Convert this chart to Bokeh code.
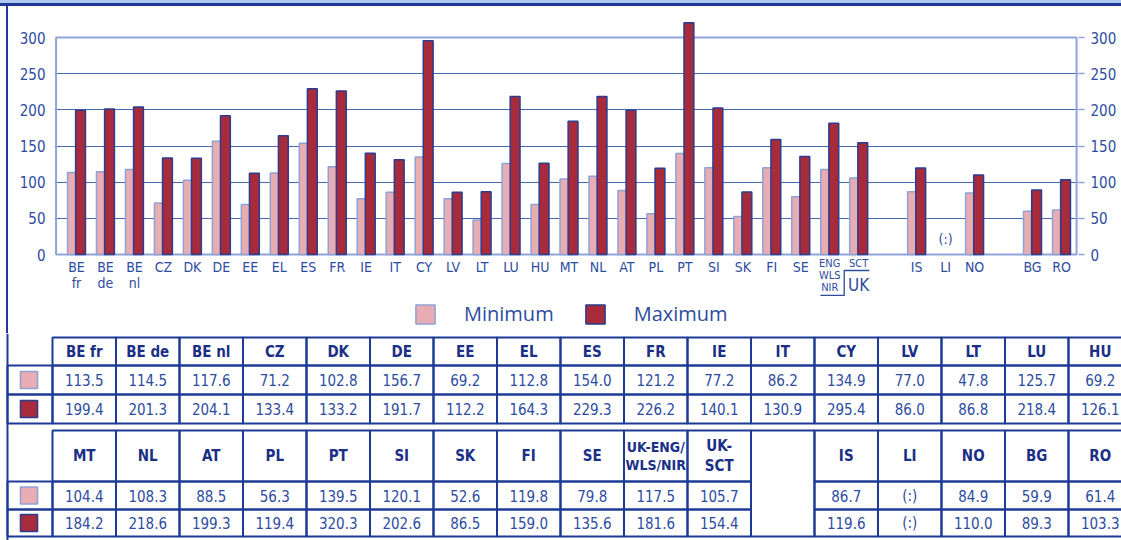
from bokeh.plotting import figure
from bokeh.models import (Range1d, FixedTicker, LinearAxis, Legend, LegendItem,
                          ColumnDataSource, Div, Grid)
from bokeh.layouts import column
from bokeh.transform import dodge
from bokeh.core.properties import value
from bokeh.embed import file_html
from bokeh.resources import INLINE

# ---------------- data ----------------
eu_countries = ["BE fr", "BE de", "BE nl", "CZ", "DK", "DE", "EE", "EL", "ES", "FR",
                "IE", "IT", "CY", "LV", "LT", "LU", "HU", "MT", "NL", "AT", "PL",
                "PT", "SI", "SK", "FI", "SE", "UK-ENG/WLS/NIR", "UK-SCT"]
efta_countries = ["IS", "LI", "NO"]
candidate_countries = ["BG", "RO"]

minimum = [113.5, 114.5, 117.6, 71.2, 102.8, 156.7, 69.2, 112.8, 154.0, 121.2,
           77.2, 86.2, 134.9, 77.0, 47.8, 125.7, 69.2, 104.4, 108.3, 88.5, 56.3,
           139.5, 120.1, 52.6, 119.8, 79.8, 117.5, 105.7,
           86.7, None, 84.9,
           59.9, 61.4]
maximum = [199.4, 201.3, 204.1, 133.4, 133.2, 191.7, 112.2, 164.3, 229.3, 226.2,
           140.1, 130.9, 295.4, 86.0, 86.8, 218.4, 126.1, 184.2, 218.6, 199.3, 119.4,
           320.3, 202.6, 86.5, 159.0, 135.6, 181.6, 154.4,
           119.6, None, 110.0,
           89.3, 103.3]

axis_labels = ["BE\nfr", "BE\nde", "BE\nnl", "CZ", "DK", "DE", "EE", "EL", "ES", "FR",
               "IE", "IT", "CY", "LV", "LT", "LU", "HU", "MT", "NL", "AT", "PL",
               "PT", "SI", "SK", "FI", "SE", "ENG\nWLS\nNIR", "SCT",
               "IS", "LI", "NO", "BG", "RO"]
table_headers = ["BE fr", "BE de", "BE nl", "CZ", "DK", "DE", "EE", "EL", "ES", "FR",
                 "IE", "IT", "CY", "LV", "LT", "LU", "HU", "MT", "NL", "AT", "PL",
                 "PT", "SI", "SK", "FI", "SE", "UK-ENG/\nWLS/NIR", "UK-\nSCT",
                 "IS", "LI", "NO", "BG", "RO"]
uk_label = "UK"
missing_label = "(:)"
series_names = ["Minimum", "Maximum"]
y_ticks = [0, 50, 100, 150, 200, 250, 300]
grid_ticks = [50, 100, 150, 200, 250]

# ---------------- styles ----------------
PINK, PINK_LINE = "#e8adb2", "#8ea2d6"
RED, RED_LINE = "#a82b3b", "#2a3d90"
BLUE = "#2e4c9f"
NAVY = "#1b2f86"
GRID_C = "#4a68b2"
BOX_C = "#8fa4d8"
BORDER = "#1d3a96"
NARROW = "Liberation Sans Narrow, DejaVu Sans Condensed, Arial Narrow, sans-serif"

W = 1121
BAND_H = 6
CHART_H = 327
TABLE_H = 207

# ---------------- slot positions (gap between country groups) ----------------
groups = [eu_countries, efta_countries, candidate_countries]
countries, slots = [], []
pos = 0
for g in groups:
    for c in g:
        countries.append(c)
        slots.append(pos)
        pos += 1
    pos += 1

nan = float("nan")
src = ColumnDataSource(dict(
    x=slots,
    minimum=[nan if v is None else v for v in minimum],
    maximum=[nan if v is None else v for v in maximum],
    label=axis_labels,
))

# ---------------- chart ----------------
box_l, box_r = slots[0] - 0.705, slots[-1] + 0.52
p = figure(width=W, height=CHART_H, output_backend="svg", toolbar_location=None,
           x_range=Range1d(slots[0] - 0.759, slots[-1] + 0.587),
           y_range=Range1d(-109.2, 342.9),
           x_axis_location=None, y_axis_location=None,
           min_border_left=54, min_border_right=43, min_border_top=0, min_border_bottom=0,
           outline_line_color=None, border_fill_color=None, frame_align=False,
           styles={"background": "linear-gradient(to right, transparent 6px, %s 6px, %s 8px, transparent 8px)" % (BORDER, BORDER)})
p.grid.visible = False
p.add_layout(Grid(dimension=1, ticker=FixedTicker(ticks=grid_ticks),
                  grid_line_color=GRID_C, grid_line_width=1.2))

for side, kw in (("left", dict(major_tick_out=0, major_label_standoff=9)),
                 ("right", dict(major_tick_out=6, major_label_standoff=6))):
    ax = LinearAxis(ticker=FixedTicker(ticks=y_ticks), axis_line_color=None,
                    major_tick_in=0, minor_tick_line_color=None,
                    major_tick_line_color=BOX_C, major_tick_line_width=1.5,
                    major_label_text_font=NARROW, major_label_text_font_size="15px",
                    major_label_text_color=BLUE, **kw)
    p.add_layout(ax, side)

# plot box
p.quad(left=[box_l], right=[box_r], bottom=[0], top=[300], fill_color=None,
       line_color=BOX_C, line_width=2)

r_min = p.vbar(x=dodge("x", -0.14, range=p.x_range), top="minimum", width=0.34,
               source=src, fill_color=PINK, line_color=PINK_LINE, line_width=1.5)
r_max = p.vbar(x=dodge("x", 0.14, range=p.x_range), top="maximum", width=0.34,
               source=src, fill_color=RED, line_color=RED_LINE, line_width=1.5)

# category labels
big = [i for i, c in enumerate(countries) if not c.startswith("UK-")]
small = [i for i, c in enumerate(countries) if c.startswith("UK-")]
p.text(x=[slots[i] for i in big], y=-6.5, text=[axis_labels[i] for i in big],
       text_font=value(NARROW), text_font_size="14px", text_color=BLUE,
       text_align="center", text_baseline="top", text_line_height=1.0)
p.text(x=[slots[i] for i in small], y=-3.0, text=[axis_labels[i] for i in small],
       text_font=value(NARROW), text_font_size="11px", text_color=BLUE,
       text_align="center", text_baseline="top", text_line_height=0.92)

# missing data marker
miss = [i for i, v in enumerate(maximum) if v is None]
p.text(x=[slots[i] for i in miss], y=22, text=[missing_label] * len(miss),
       text_font=value(NARROW), text_font_size="14px", text_color=BLUE,
       text_align="center", text_baseline="middle")

# UK bracket
eng = slots[countries.index("UK-ENG/WLS/NIR")]
sct = slots[countries.index("UK-SCT")]
mid = (eng + sct) / 2
p.line(x=[eng - 0.32, mid, mid, sct + 0.37], y=[-56.6, -56.6, -22.1, -22.1],
       line_color=BLUE, line_width=1.3)
p.text(x=[sct], y=[-41.5], text=[uk_label], text_font=value(NARROW),
       text_font_size="17px", text_color=BLUE, text_align="center",
       text_baseline="middle")

legend = Legend(items=[LegendItem(label=series_names[0], renderers=[r_min]),
                       LegendItem(label=series_names[1], renderers=[r_max])],
                orientation="horizontal", location=(359, 6), padding=0, margin=0,
                spacing=29, glyph_width=24, glyph_height=24, label_standoff=27,
                label_text_font="Open Sans", label_text_font_size="20px",
                label_text_color=BLUE, border_line_color=None,
                background_fill_alpha=0)
p.add_layout(legend)

# ---------------- table ----------------
t = figure(width=W, height=TABLE_H, output_backend="svg", toolbar_location=None,
           x_range=Range1d(-0.819, 16.835), y_range=Range1d(540, 333),
           x_axis_location=None, y_axis_location=None,
           min_border=0, outline_line_color=None, frame_align=False)
t.grid.visible = False

n1 = 17
block_cols = [list(range(0, n1)),
              list(range(n1, len(eu_countries))) + [None] + list(range(len(eu_countries), len(countries)))]
block_rows = [[337, 365, 394, 423], [430, 481, 509, 536]]
sw_left = -0.709

L, R, T, B = [], [], [], []
hx, hy, ht, hs = [], [], [], []
vx, vy, vt = [], [], []
for cols, rows in zip(block_cols, block_rows):
    # legend swatch column
    for r in (1, 2):
        L.append(sw_left); R.append(0); T.append(rows[r]); B.append(rows[r + 1])
    for c, k in enumerate(cols):
        if k is None:
            L.append(c); R.append(c + 1); T.append(rows[0]); B.append(rows[3])
            continue
        for r in range(3):
            L.append(c); R.append(c + 1); T.append(rows[r]); B.append(rows[r + 1])
        hx.append(c + 0.5); hy.append((rows[0] + rows[1]) / 2); ht.append(table_headers[k])
        hs.append("14px" if len(table_headers[k]) > 8 else "15px")
        for r, series in ((1, minimum), (2, maximum)):
            v = series[k]
            vx.append(c + 0.5); vy.append((rows[r] + rows[r + 1]) / 2)
            vt.append(missing_label if v is None else "%.1f" % v)

t.quad(left=L, right=R, top=T, bottom=B, fill_color=None, line_color=BORDER,
       line_width=2)
t.line(x=[sw_left, sw_left], y=[333, 540], line_color=BORDER, line_width=2)

sx, sy, sc, sl = [], [], [], []
for rows in block_rows:
    for r, (fc, lc) in ((1, (PINK, PINK_LINE)), (2, (RED, RED_LINE))):
        sx.append(-0.37); sy.append((rows[r] + rows[r + 1]) / 2); sc.append(fc); sl.append(lc)
t.rect(x=sx, y=sy, width=0.27, height=17, fill_color=sc, line_color=sl, line_width=1.5)

hsrc = ColumnDataSource(dict(x=hx, y=hy, text=ht, size=hs))
t.text(x="x", y="y", text="text", source=hsrc, text_font=value(NARROW),
       text_font_size="size", text_font_style="bold", text_color=NAVY,
       text_align="center", text_baseline="middle", text_line_height=1.1)
t.text(x=vx, y=vy, text=vt, text_font=value(NARROW), text_font_size="15px",
       text_color=BLUE, text_align="center", text_baseline="middle")

band = Div(width=W, height=BAND_H, margin=0,
           styles={"background": "linear-gradient(#b0c8ee 0 45%%, %s 45%% 100%%)" % BORDER})

layout = column(band, p, t, spacing=0)
open("out.html", "w").write(file_html(layout, INLINE))
